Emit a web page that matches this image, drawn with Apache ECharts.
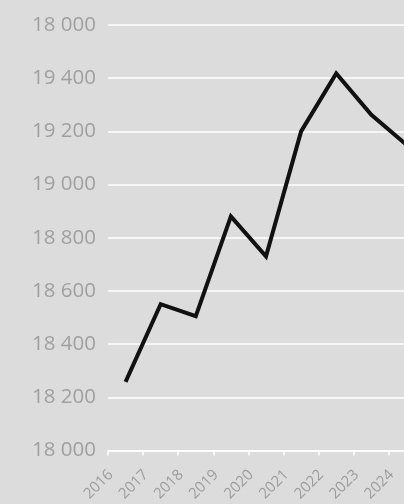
<!DOCTYPE html>
<html>
<head>
<meta charset="utf-8">
<script src="https://cdn.jsdelivr.net/npm/echarts@6/dist/echarts.min.js"></script>
<style>
html,body{margin:0;padding:0;background:#dcdcdc;overflow:hidden;width:404px;height:504px;}
#chart{width:424px;height:504px;}
</style>
</head>
<body>
<div id="chart"></div>
<script>
const years = ['2016','2017','2018','2019','2020','2021','2022','2023','2024'];
const values = [18258, 18550, 18505, 18880, 18730, 19200, 19418, 19262, 19150];
const yTickValues = [18000, 18200, 18400, 18600, 18800, 19000, 19200, 19400, 19600];
const yTickLabels = ['18 000', '18 200', '18 400', '18 600', '18 800', '19 000', '19 200', '19 400', '18 000'];

const chart = echarts.init(document.getElementById('chart'));
chart.setOption({
  backgroundColor: '#dcdcdc',
  animation: false,
  grid: { left: 108, right: 0, top: 25, bottom: 52, containLabel: false },
  xAxis: {
    type: 'category',
    data: years,
    boundaryGap: true,
    axisLine: { show: true, lineStyle: { color: '#ffffff', width: 1.5 } },
    axisTick: { show: true, length: 5, lineStyle: { color: '#ffffff', width: 1.5 } },
    axisLabel: { rotate: 45, color: '#9c9c9c', fontSize: 15, fontFamily: 'Open Sans', margin: 7, padding: [0, 21, 0, 0] },
    splitLine: { show: false }
  },
  yAxis: {
    type: 'value',
    min: 18000, max: 19600, interval: 200,
    axisLine: { show: false },
    axisTick: { show: false },
    axisLabel: {
      color: '#a0a0a0', fontSize: 20.5, fontFamily: 'Open Sans', margin: 12,
      formatter: function (v) {
        const i = yTickValues.indexOf(v);
        return i >= 0 ? yTickLabels[i] : '';
      }
    },
    splitLine: { show: true, lineStyle: { color: '#ffffff', width: 1.5 } }
  },
  series: [{
    type: 'line',
    data: values,
    showSymbol: false,
    symbol: 'none',
    lineStyle: { color: '#111111', width: 4, join: 'miter' },
    clip: false
  }]
});
</script>
</body>
</html>
